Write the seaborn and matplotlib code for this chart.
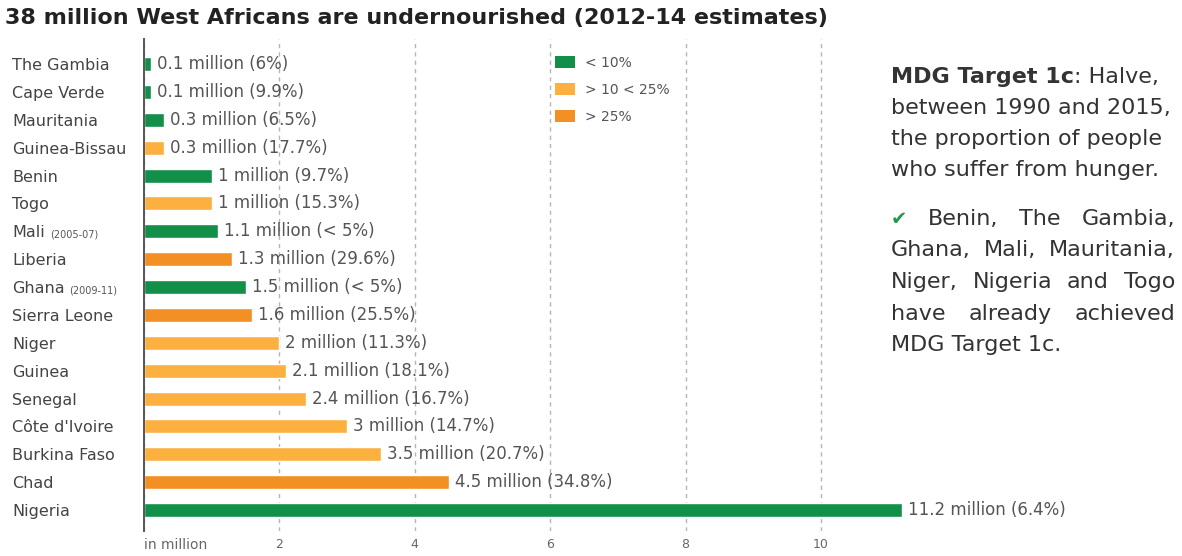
import matplotlib
matplotlib.use("Agg")
import matplotlib.pyplot as plt
from matplotlib.patches import Patch
import seaborn as sns
import pandas as pd

# --- data -------------------------------------------------------------
countries = ["The Gambia", "Cape Verde", "Mauritania", "Guinea-Bissau", "Benin",
             "Togo", "Mali", "Liberia", "Ghana", "Sierra Leone", "Niger",
             "Guinea", "Senegal", "Côte d'Ivoire", "Burkina Faso", "Chad", "Nigeria"]
period_notes = {"Mali": "(2005-07)", "Ghana": "(2009-11)"}
millions = [0.1, 0.1, 0.3, 0.3, 1, 1, 1.1, 1.3, 1.5, 1.6, 2, 2.1, 2.4, 3, 3.5, 4.5, 11.2]
shares = ["6%", "9.9%", "6.5%", "17.7%", "9.7%", "15.3%", "< 5%", "29.6%", "< 5%",
          "25.5%", "11.3%", "18.1%", "16.7%", "14.7%", "20.7%", "34.8%", "6.4%"]
bands = ["< 10%", "> 10 < 25%", "> 25%"]
band_of = ["< 10%", "< 10%", "< 10%", "> 10 < 25%", "< 10%", "> 10 < 25%", "< 10%",
           "> 25%", "< 10%", "> 25%", "> 10 < 25%", "> 10 < 25%", "> 10 < 25%",
           "> 10 < 25%", "> 10 < 25%", "> 25%", "< 10%"]
band_colors = ["#12904a", "#fbb040", "#f29024"]
x_ticks = [0, 2, 4, 6, 8, 10]
x_tick_labels = ["in million", "2", "4", "6", "8", "10"]

title = "38 million West Africans are undernourished (2012-14 estimates)"
target_lines = [[("MDG Target 1c", "bold"), (": Halve,", "normal")],
                "between 1990 and 2015,",
                "the proportion of people",
                "who suffer from hunger."]
achieved_lines = ["Benin, The Gambia,",
                  "Ghana, Mali, Mauritania,",
                  "Niger, Nigeria and Togo",
                  "have already achieved",
                  "MDG Target 1c."]

df = pd.DataFrame({"country": countries, "millions": millions, "band": band_of})

# --- figure -----------------------------------------------------------
sns.set_theme(style="white")
plt.rcParams["font.family"] = ["DejaVu Sans"]

W, H = 1182, 556
fig = plt.figure(figsize=(W / 100, H / 100), dpi=100)
fig.patch.set_facecolor("white")
ax = fig.add_axes([144 / W, 1 - 531 / H, 853 / W, (531 - 39) / H])

sns.barplot(data=df, x="millions", y="country", hue="band", order=countries,
            hue_order=bands, palette=band_colors, dodge=False, width=0.5,
            errorbar=None, legend=False, saturation=1, ax=ax)

ax.set_xlim(0, 12.6)
ax.set_ylim(len(countries) - 0.25, -0.9)
ax.set_xlabel("")
ax.set_ylabel("")
ax.set_facecolor("white")
for side in ["top", "right", "bottom"]:
    ax.spines[side].set_visible(False)
ax.spines["left"].set_color("#555555")
ax.spines["left"].set_linewidth(1.4)
ax.spines["left"].set_zorder(5)

ax.set_xticks(x_ticks)
ax.set_xticklabels(x_tick_labels)
ax.xaxis.grid(True, linestyle=(0, (3, 3)), color="#b5b5b5", linewidth=1)
ax.set_axisbelow(True)
ax.tick_params(axis="x", length=0, pad=5, colors="#666666", labelsize=9)
ax.tick_params(axis="y", length=0, labelleft=False)
xlabels = ax.get_xticklabels()
xlabels[0].set_horizontalalignment("left")
xlabels[0].set_fontsize(10)

renderer = fig.canvas.get_renderer()

# country names (with survey period where it differs)
for i, name in enumerate(countries):
    t = ax.annotate(name, xy=(12, i), xycoords=("figure pixels", "data"),
                    xytext=(0, -6), textcoords="offset pixels",
                    va="baseline", ha="left", fontsize=11.5, color="#444444")
    if name in period_notes:
        w = t.get_window_extent(renderer).width
        ax.annotate(period_notes[name], xy=(12 + w + 5, i),
                    xycoords=("figure pixels", "data"),
                    xytext=(0, -6), textcoords="offset pixels",
                    va="baseline", ha="left", fontsize=7, color="#555555")

# value labels
for i, (v, s) in enumerate(zip(millions, shares)):
    ax.annotate(f"{v:g} million ({s})", xy=(v, i), xytext=(6, 0),
                textcoords="offset pixels", va="center", ha="left",
                fontsize=12, color="#555555")

# legend
handles = [Patch(facecolor=c, edgecolor="none") for c in band_colors]
fig.legend(handles, bands, loc="upper left", bbox_to_anchor=(555 / W, 1 - 56 / H),
           frameon=False, fontsize=10, labelcolor="#555555", handlelength=1.44,
           handleheight=1.0, handletextpad=0.7, labelspacing=0.93,
           borderpad=0, borderaxespad=0)

# title
fig.text(5 / W, 1 - 18 / H, title, fontsize=16, fontweight="bold",
         va="center", ha="left", color="#222222")

# side note
TXT = dict(fontsize=16, color="#333333", va="baseline", ha="left")


def fx(px):
    return px / W


def fy(py):
    return 1 - py / H


x_left, x_right = 891, 1175
base = 83
for line in target_lines:
    if isinstance(line, str):
        fig.text(fx(x_left), fy(base), line, **TXT)
    else:
        x = x_left
        for chunk, weight in line:
            t = fig.text(fx(x), fy(base), chunk, fontweight=weight, **TXT)
            x += t.get_window_extent(renderer).width
    base += 31

base = 225
for k, line in enumerate(achieved_lines):
    words = [(w, {}) for w in line.split()]
    if k == 0:
        words = [("\u2714", {"color": "#1f9a4c", "fontsize": 14})] + words
    if k == len(achieved_lines) - 1:
        fig.text(fx(x_left), fy(base), line, **TXT)
    else:
        objs = []
        for w, extra in words:
            props = dict(TXT)
            props.update(extra)
            objs.append(fig.text(0, fy(base), w, **props))
        widths = [o.get_window_extent(renderer).width for o in objs]
        gap = (x_right - x_left - sum(widths)) / (len(objs) - 1)
        x = x_left
        for o, w in zip(objs, widths):
            o.set_x(fx(x))
            x += w + gap
    base += 31.5

fig.savefig("out.png", dpi=100, facecolor="white")
